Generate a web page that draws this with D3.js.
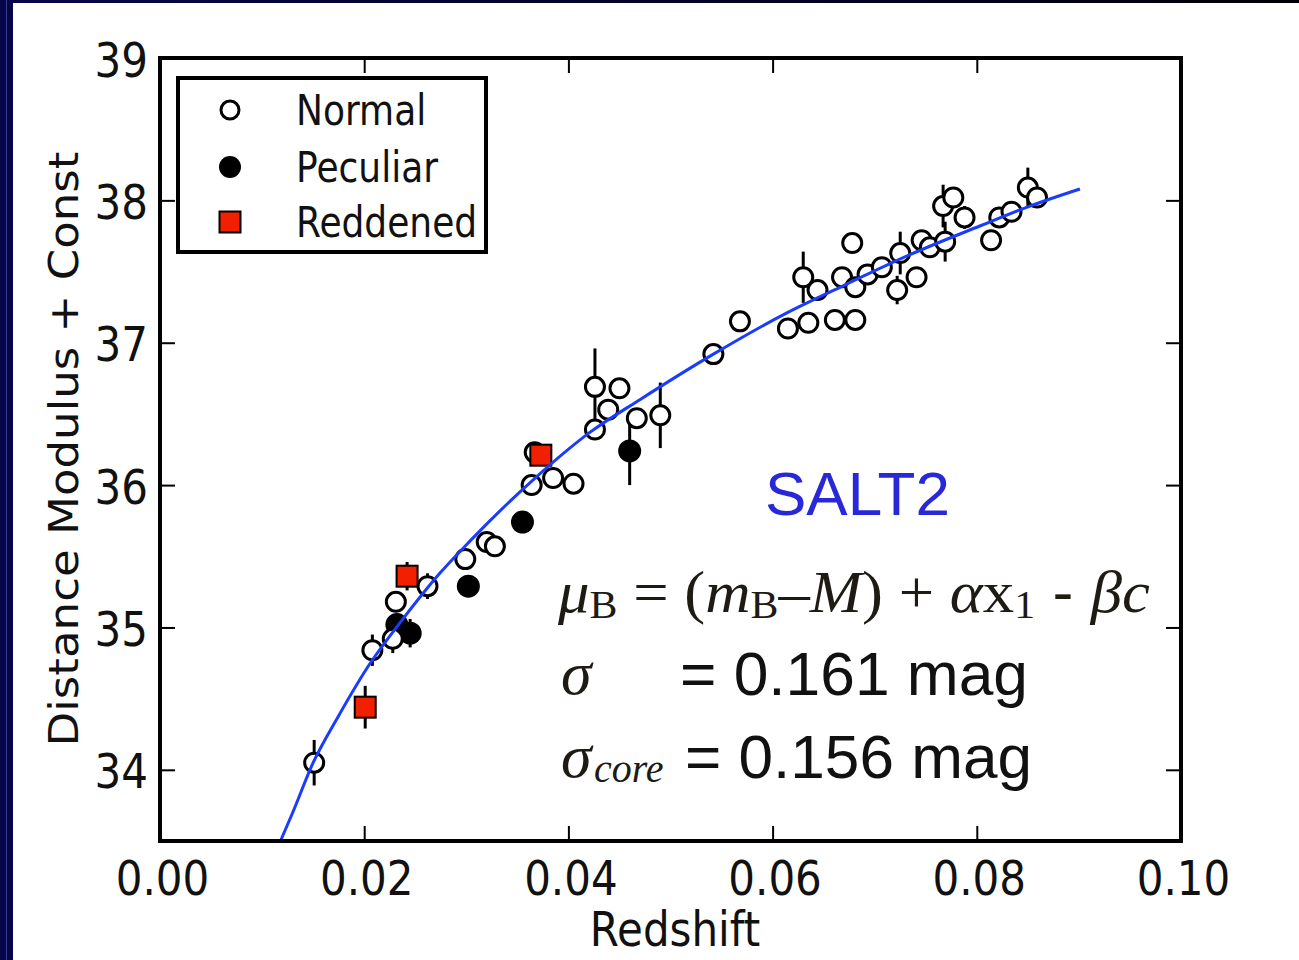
<!DOCTYPE html>
<html><head><meta charset="utf-8">
<script src="https://cdn.jsdelivr.net/npm/d3@7"></script>
<style>html,body{margin:0;padding:0;background:#fff;} svg{display:block;} text{white-space:pre;}</style>
</head><body>
<svg id="chart" width="1299" height="960"></svg>
<script>
// ---- data ----
const normalZ   = [0.0151,0.0208,0.0228,0.0231,0.0262,0.0299,0.0320,0.0328,0.0364,0.0367,0.0385,0.0405,0.0426,0.0450,0.0439,0.0426,0.0467,0.0490,0.0542,0.0568,0.0615,0.0635,0.0630,0.0644,0.0661,0.0681,0.0668,0.0678,0.0681,0.0693,0.0707,0.0725,0.0722,0.0741,0.0746,0.0754,0.0767,0.0777,0.0769,0.0788,0.0814,0.0822,0.0834,0.0850,0.0859];
const normalMu  = [34.05,34.84,34.92,35.18,35.29,35.48,35.60,35.57,36.00,36.23,36.05,36.01,36.69,36.68,36.53,36.39,36.47,36.49,36.92,37.15,37.10,37.14,37.46,37.37,37.16,37.16,37.46,37.70,37.39,37.48,37.53,37.63,37.37,37.46,37.72,37.67,37.96,38.02,37.71,37.88,37.72,37.88,37.92,38.09,38.02];
const normalErr = [0.16,0.11,0.10,0.05,0.09,0.04,0.04,0.04,0.04,0.04,0.04,0.04,0.27,0.04,0.06,0.06,0.04,0.23,0.03,0.03,0.03,0.03,0.18,0.03,0.03,0.03,0.03,0.03,0.07,0.03,0.06,0.15,0.10,0.03,0.03,0.03,0.15,0.03,0.14,0.08,0.03,0.03,0.03,0.14,0.03];

const peculiarZ   = [0.0232,0.0245,0.0302,0.0355,0.0460];
const peculiarMu  = [35.02,34.96,35.29,35.74,36.24];
const peculiarErr = [0.04,0.10,0.04,0.04,0.24];

const reddenedZ   = [0.0201,0.0242,0.0373];
const reddenedMu  = [34.44,35.36,36.21];
const reddenedErr = [0.15,0.10,0.07];

const fitZ  = [0.0118,0.0130,0.0150,0.0175,0.0206,0.0238,0.0274,0.0304,0.0369,0.0421,0.0470,0.0542,0.0614,0.0669,0.0735,0.0803,0.0852,0.0901];
const fitMu = [33.50,33.70,34.05,34.38,34.75,35.06,35.38,35.61,36.06,36.37,36.60,36.92,37.21,37.40,37.62,37.82,37.96,38.08];

const xTicks = [0.00,0.02,0.04,0.06,0.08,0.10];
const yTicks = [34,35,36,37,38,39];
const legendLabels = ["Normal","Peculiar","Reddened"];

// ---- drawing ----
const svg = d3.select("#chart");
const L=160, R=1181, T=58, B=841;
const x = d3.scaleLinear().domain([0,0.10]).range([L,R]);
const y = d3.scaleLinear().domain([33.5,39]).range([B,T]);
const SY = 1.16;
const sans = "'DejaVu Sans', 'Bitstream Vera Sans', sans-serif";

// background frame
const defs = svg.append("defs");
const g1 = defs.append("linearGradient").attr("id","topg").attr("x1","0").attr("x2","1").attr("y1","0").attr("y2","0");
g1.append("stop").attr("offset","0").attr("stop-color","#06064a");
g1.append("stop").attr("offset","1").attr("stop-color","#000008");
svg.append("rect").attr("x",0).attr("y",0).attr("width",1299).attr("height",960).attr("fill","#ffffff");
svg.append("rect").attr("x",0).attr("y",0).attr("width",1299).attr("height",3).attr("fill","url(#topg)");
svg.append("rect").attr("x",0).attr("y",0).attr("width",13).attr("height",960).attr("fill","#05054a");
svg.append("line").attr("x1",6.5).attr("x2",6.5).attr("y1",0).attr("y2",960).attr("stroke","#3a3a88").attr("stroke-width",1);

// axes (ticks inward)
const axB = svg.append("g").attr("transform",`translate(0,${B})`)
  .call(d3.axisBottom(x).tickValues(xTicks).tickSize(-15).tickFormat(d3.format(".2f")));
const axT = svg.append("g").attr("transform",`translate(0,${T})`)
  .call(d3.axisTop(x).tickValues(xTicks).tickSize(-15).tickFormat(""));
const axL = svg.append("g").attr("transform",`translate(${L},0)`)
  .call(d3.axisLeft(y).tickValues(yTicks).tickSize(-15).tickFormat(d3.format("d")));
const axR = svg.append("g").attr("transform",`translate(${R},0)`)
  .call(d3.axisRight(y).tickValues(yTicks).tickSize(-15).tickFormat(""));
[axB,axT,axL,axR].forEach(a=>{
  a.select(".domain").remove();
  a.selectAll(".tick line").attr("stroke","#000").attr("stroke-width",2);
});
axB.selectAll(".tick text").attr("y",null).attr("dy",null)
  .attr("transform",`translate(2,54) scale(1,${SY})`)
  .attr("font-size",42).attr("font-family",sans).attr("fill","#111").attr("text-anchor","middle");
axL.selectAll(".tick text").attr("x",null).attr("dy",null)
  .attr("transform",`translate(-12,18) scale(1,${SY})`)
  .attr("font-size",42).attr("font-family",sans).attr("fill","#111").attr("text-anchor","end");

// axis titles
svg.append("text").attr("transform",`translate(675,946) scale(1,${SY})`)
  .attr("text-anchor","middle").attr("font-size",42).attr("font-family",sans).attr("fill","#111").text("Redshift");
svg.append("text").attr("transform",`translate(78,449) rotate(-90) scale(1.1,1)`)
  .attr("text-anchor","middle").attr("font-size",41).attr("font-family",sans).attr("fill","#111").text("Distance Modulus + Const");

// series
const plot = svg.append("g");
function errbars(zs, mus, errs){
  plot.append("g").selectAll("line").data(zs).join("line")
    .attr("x1",(d)=>x(d)).attr("x2",(d)=>x(d))
    .attr("y1",(d,i)=>y(mus[i]-errs[i])).attr("y2",(d,i)=>y(mus[i]+errs[i]))
    .attr("stroke","#000").attr("stroke-width",3);
}
errbars(peculiarZ,peculiarMu,peculiarErr);
plot.append("g").selectAll("circle").data(peculiarZ).join("circle")
  .attr("cx",d=>x(d)).attr("cy",(d,i)=>y(peculiarMu[i])).attr("r",11.5).attr("fill","#000");
errbars(normalZ,normalMu,normalErr);
plot.append("g").selectAll("circle").data(normalZ).join("circle")
  .attr("cx",d=>x(d)).attr("cy",(d,i)=>y(normalMu[i])).attr("r",9.5)
  .attr("fill","#fff").attr("stroke","#000").attr("stroke-width",3);
errbars(reddenedZ,reddenedMu,reddenedErr);
plot.append("g").selectAll("rect").data(reddenedZ).join("rect")
  .attr("x",d=>x(d)-10.5).attr("y",(d,i)=>y(reddenedMu[i])-10.5).attr("width",21).attr("height",21)
  .attr("fill","#f02000").attr("stroke","#000").attr("stroke-width",2);

// fit curve
const line = d3.line().x((d)=>x(d)).y((d,i)=>y(fitMu[i])).curve(d3.curveMonotoneX);
svg.append("path").attr("d",line(fitZ)).attr("fill","none").attr("stroke","#1a3cff").attr("stroke-width",3);

// frame
svg.append("rect").attr("x",L).attr("y",T).attr("width",R-L).attr("height",B-T)
  .attr("fill","none").attr("stroke","#000").attr("stroke-width",4);

// legend
const lg = svg.append("g");
lg.append("rect").attr("x",178).attr("y",78).attr("width",308).attr("height",174)
  .attr("fill","#fff").attr("stroke","#000").attr("stroke-width",4);
const legY = [110,167,222];
lg.append("circle").attr("cx",230).attr("cy",legY[0]).attr("r",9).attr("fill","#fff").attr("stroke","#000").attr("stroke-width",3);
lg.append("circle").attr("cx",230).attr("cy",legY[1]).attr("r",11).attr("fill","#000");
lg.append("rect").attr("x",219.5).attr("y",legY[2]-10.5).attr("width",21).attr("height",21).attr("fill","#f02000").attr("stroke","#000").attr("stroke-width",2);
lg.selectAll("text.lab").data(legendLabels).join("text").attr("class","lab")
  .attr("transform",(d,i)=>`translate(296,${legY[i]+15}) scale(1,${SY})`)
  .attr("font-size",36).attr("font-family",sans).attr("fill","#111").text(d=>d);

// annotations
svg.append("text").attr("x",765).attr("y",515).attr("font-size",62)
  .attr("font-family","'Liberation Sans', Arial, sans-serif").attr("fill","#2828d8").text("SALT2");

const serif = "'Liberation Serif', 'Times New Roman', serif";
const arial = "'Liberation Sans', Arial, sans-serif";
const f1 = svg.append("text").attr("x",558).attr("y",612).attr("font-size",60).attr("font-family",serif)
  .attr("fill","#1e1a14").attr("textLength",592).attr("lengthAdjust","spacingAndGlyphs");
f1.append("tspan").attr("font-style","italic").text("μ");
f1.append("tspan").attr("font-size",40).attr("dy",6).text("B");
f1.append("tspan").attr("dy",-6).text(" = (");
f1.append("tspan").attr("font-style","italic").text("m");
f1.append("tspan").attr("font-size",40).attr("dy",6).text("B");
f1.append("tspan").attr("dy",-6).text("–");
f1.append("tspan").attr("font-style","italic").text("M");
f1.append("tspan").text(") + ");
f1.append("tspan").attr("font-style","italic").text("α");
f1.append("tspan").text("x");
f1.append("tspan").attr("font-size",40).attr("dy",6).text("1");
f1.append("tspan").attr("dy",-6).attr("font-family",arial).text(" - ");
f1.append("tspan").attr("font-style","italic").text("βc");

svg.append("text").attr("x",561).attr("y",694).attr("font-size",62).attr("font-family",serif)
  .attr("font-style","italic").attr("fill","#1e1a14").text("σ");
svg.append("text").attr("x",680).attr("y",695).attr("font-size",62).attr("font-family",arial)
  .attr("fill","#111").attr("textLength",348).attr("lengthAdjust","spacingAndGlyphs").text("= 0.161 mag");
svg.append("text").attr("x",561).attr("y",777).attr("font-size",62).attr("font-family",serif)
  .attr("font-style","italic").attr("fill","#1e1a14").text("σ");
svg.append("text").attr("x",594).attr("y",782).attr("font-size",40).attr("font-family",serif)
  .attr("font-style","italic").attr("fill","#1e1a14").text("core");
svg.append("text").attr("x",685).attr("y",778).attr("font-size",62).attr("font-family",arial)
  .attr("fill","#111").attr("textLength",347).attr("lengthAdjust","spacingAndGlyphs").text("= 0.156 mag");
</script>
</body></html>
